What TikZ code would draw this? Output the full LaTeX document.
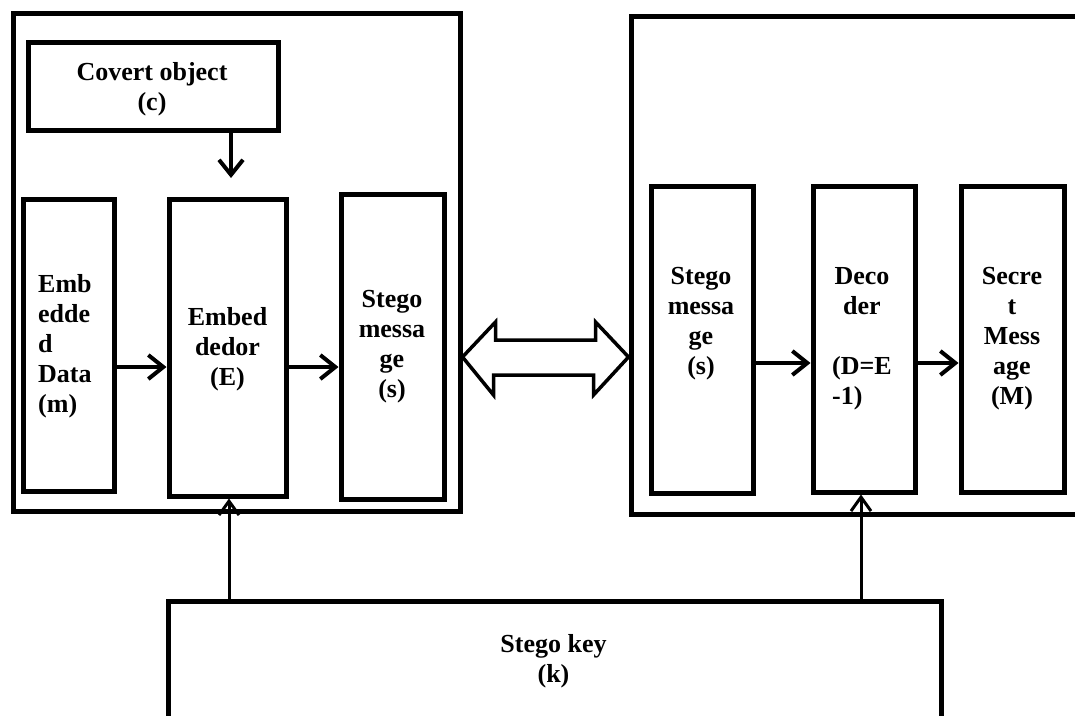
\documentclass[tikz,border=0pt]{standalone}
\usepackage{fontspec}
\setmainfont{Liberation Serif}
\usetikzlibrary{arrows.meta}

\begin{document}
\begin{tikzpicture}[x=1pt,y=-1pt,
  box/.style={draw, line width=5pt, inner sep=0pt},
  txt/.style={font=\bfseries\fontsize{26}{30}\selectfont, inner sep=0pt, align=center, anchor=north},
  flow/.style={line width=4pt, -{Straight Barb[length=15pt,width=24pt,line width=4pt]}},
  keyline/.style={line width=3pt, -{Straight Barb[length=14pt,width=20pt,line width=3pt]}},
  bigarrow/.style={draw, line width=3.5pt, fill=white, line join=miter},
]
\useasboundingbox (0,0) rectangle (1075,715);
\clip (0,0) rectangle (1075,715);

% sender side
\node[box, minimum width=447, minimum height=498] (sender) at (236.5,262) {};
\node[box, minimum width=250, minimum height=88]  (covert) at (153,86) {};
\node[box, minimum width=91,  minimum height=292] (data)   at (68.5,345) {};
\node[box, minimum width=117, minimum height=297] (embed)  at (227.5,347.5) {};
\node[box, minimum width=103, minimum height=305] (stegoL) at (392.5,346.5) {};

% receiver side
\node[box, minimum width=469, minimum height=498] (receiver) at (865.5,265) {};
\node[box, minimum width=102, minimum height=307] (stegoR)  at (702,339.5) {};
\node[box, minimum width=102, minimum height=306] (decoder) at (864,339) {};
\node[box, minimum width=103, minimum height=306] (secret)  at (1012.5,339) {};

% key
\node[box, minimum width=773, minimum height=139] (key) at (554.5,670.5) {};

% labels
\node[txt] (tcovert) at (152,62) {Covert object\\(c)};
\node[txt, anchor=north west, align=left] (tdata) at (38,274) {Emb\\edde\\d\\Data\\(m)};
\node[txt] (tembed) at (227.5,307) {Embed\\dedor\\(E)};
\node[txt] (tstegoL) at (392,290) {Stego\\messa\\ge\\(s)};
\node[txt] (tstegoR) at (701,267) {Stego\\messa\\ge\\(s)};
\node[txt] (tdecoder) at (862,267) {Deco\\der\\\mbox{}\\(D=E\\\rlap{-1)}\hphantom{(D=E}};
\node[txt] (tsecret) at (1012,267) {Secre\\t\\Mess\\age\\(M)};
\node[txt] (tkey) at (553.5,634) {Stego key\\(k)};

% reference levels for the connectors
\coordinate (covin) at (231,178);
\coordinate (rowL) at (0,367);
\coordinate (rowR) at (0,363);
\coordinate (colL) at (229,0);
\coordinate (colR) at (861,0);

% connectors
\draw[flow] (covert.south -| covin) -- (covin);
\draw[flow] (data.east |- rowL) -- (embed.west |- rowL);
\draw[flow] (embed.east |- rowL) -- (stegoL.west |- rowL);
\draw[flow] (stegoR.east |- rowR) -- (decoder.west |- rowR);
\draw[flow] (decoder.east |- rowR) -- (secret.west |- rowR);
\draw[keyline] (key.north -| colL) -- (embed.south -| colL);
\draw[keyline] (key.north -| colR) -- (decoder.south -| colR);

% hollow double arrow between the two sides
\draw[bigarrow] (sender.east |- 0,357) -- ++(33,-35) -- ++(0,18) -- ++(100,0) -- ++(0,-18)
  -- (receiver.west |- 0,357) -- ++(-35,38) -- ++(0,-20) -- ++(-100,0) -- ++(0,20) -- cycle;
\end{tikzpicture}
\end{document}
